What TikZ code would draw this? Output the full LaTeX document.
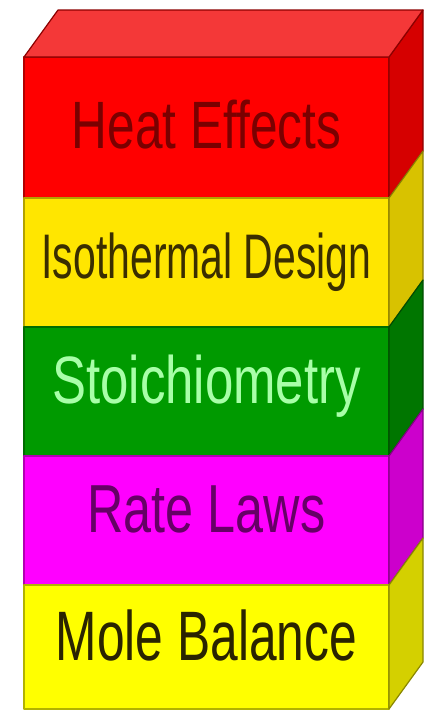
\documentclass[tikz,border=0pt]{standalone}
\usepackage{fontspec}
\setmainfont{Liberation Sans}
\usepackage{xcolor}
\usepackage{tikz}
\definecolor{rosso}{HTML}{FF0000}
\definecolor{rossolato}{HTML}{D60000}
\definecolor{rossotop}{HTML}{F43838}
\definecolor{oro}{HTML}{FFE600}
\definecolor{orolato}{HTML}{D8C200}
\definecolor{verde}{HTML}{009A00}
\definecolor{verdelato}{HTML}{007600}
\definecolor{viola}{HTML}{FF00FF}
\definecolor{violalato}{HTML}{CC00CC}
\definecolor{giallo}{HTML}{FFFF00}
\definecolor{giallolato}{HTML}{D4D000}
\definecolor{testorosso}{HTML}{7A0000}
\definecolor{testooro}{HTML}{3A2E00}
\definecolor{testoverde}{HTML}{A8FFA8}
\definecolor{testoviola}{HTML}{660066}
\definecolor{testogiallo}{HTML}{2A2400}

\begin{document}
\begin{tikzpicture}[x=1pt,y=-1pt,
  faccia/.style={line width=1.2pt, line join=round},
  etichetta/.style={anchor=base, inner sep=0pt}]
  % Cornice
  \useasboundingbox[fill=white] (0,0) rectangle (429,712);
  % Strati
  \foreach \a/\b/\fr/\lt/\tc/\fs/\xs/\bl/\txt [count=\i] in {
      57/198/rosso/rossolato/testorosso/67/0.74/148/Heat Effects,
      198/327/oro/orolato/testooro/63/0.65/278/Isothermal Design,
      327/456/verde/verdelato/testoverde/67/0.76/403/Stoichiometry,
      456/585/viola/violalato/testoviola/68/0.74/532/Rate Laws,
      585/709/giallo/giallolato/testogiallo/70/0.71/660/Mole Balance} {
    \filldraw[faccia, fill=\fr, draw=\fr!70!black] (24,\a) rectangle (389,\b);
    \filldraw[faccia, fill=\lt, draw=\lt!65!black]
      (389,\a) -- (423,\a-47) -- (423,\b-47) -- (389,\b) -- cycle;
    \node[etichetta, font=\fontsize{\fs}{\fs}\selectfont, xscale=\xs, text=\tc]
      (strato\i) at (206.5,\bl) {\txt};
  }
  % Faccia superiore
  \filldraw[faccia, fill=rossotop, draw=rosso!55!black]
    (24,57) -- (58,10) -- (423,10) -- (389,57) -- cycle;
\end{tikzpicture}
\end{document}
